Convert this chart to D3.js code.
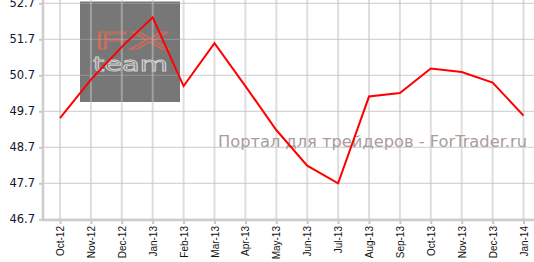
<!DOCTYPE html>
<html>
<head>
<meta charset="utf-8">
<script src="https://cdn.jsdelivr.net/npm/d3@7"></script>
<style>
	body { margin: 0; background: #fff; }
	svg { display: block; }
</style>
</head>
<body>
<div id="chart"></div>
<script>
const months = ['Oct-12', 'Nov-12', 'Dec-12', 'Jan-13', 'Feb-13', 'Mar-13', 'Apr-13', 'May-13', 'Jun-13', 'Jul-13', 'Aug-13', 'Sep-13', 'Oct-13', 'Nov-13', 'Dec-13', 'Jan-14'],
	values = [49.51, 50.58, 51.49, 52.31, 50.40, 51.59, 50.40, 49.18, 48.19, 47.70, 50.11, 50.21, 50.89, 50.79, 50.50, 49.58],
	yTicks = [46.7, 47.7, 48.7, 49.7, 50.7, 51.7, 52.7],
	watermark = 'Портал для трейдеров - ForTrader.ru',
	width = 534,
	height = 262;

const makeChart = () => {

	let svg = d3.select('#chart')
		.append('svg')
		.attr('width', width)
		.attr('height', height);

	// scales
	let x = d3.scalePoint()
		.domain(months)
		.range([60, 523.5]);

	let y = d3.scaleLinear()
		.domain([46.7, 52.7])
		.range([219.3, 3.3]);

	// logo box sits under the grid
	let logo = svg.append('g');
	logo.append('rect')
		.attr('x', 80)
		.attr('y', 1.5)
		.attr('width', 100)
		.attr('height', 100.5)
		.attr('fill', '#777');
	logo.append('text')
		.attr('x', 93)
		.attr('y', 49)
		.attr('textLength', 77)
		.attr('lengthAdjust', 'spacingAndGlyphs')
		.style('font-family', 'DejaVu Sans')
		.style('font-size', '23px')
		.attr('fill', 'none')
		.attr('stroke', '#cf6b58')
		.attr('stroke-width', 1)
		.text('FX');
	logo.append('text')
		.attr('x', 93)
		.attr('y', 70.5)
		.attr('textLength', 75)
		.attr('lengthAdjust', 'spacingAndGlyphs')
		.style('font-family', 'DejaVu Sans')
		.style('font-size', '19px')
		.attr('fill', 'none')
		.attr('stroke', '#d0d0d0')
		.attr('stroke-width', 0.9)
		.text('team');

	// grid
	svg.append('g')
		.selectAll('line')
		.data(yTicks)
		.enter()
		.append('line')
			.attr('x1', 43)
			.attr('x2', width)
			.attr('y1', d => y(d))
			.attr('y2', d => y(d))
			.attr('stroke', 'rgba(170,170,170,0.6)')
			.attr('stroke-width', 1);

	svg.append('g')
		.selectAll('line')
		.data(months)
		.enter()
		.append('line')
			.attr('x1', d => x(d))
			.attr('x2', d => x(d))
			.attr('y1', 0)
			.attr('y2', 219)
			.attr('stroke', 'rgba(195,195,195,0.55)')
			.attr('stroke-width', 2);

	// watermark
	svg.append('text')
		.attr('x', 218)
		.attr('y', 147)
		.attr('textLength', 309)
		.attr('lengthAdjust', 'spacingAndGlyphs')
		.style('font-family', 'DejaVu Sans')
		.style('font-size', '16.5px')
		.attr('fill', '#a99c9c')
		.text(watermark);

	// axes
	let yAxis = d3.axisLeft(y).tickValues(yTicks).tickFormat(d3.format('.1f')).tickSize(4).tickPadding(4);
	let xAxis = d3.axisBottom(x).tickSize(4).tickPadding(3);

	let gy = svg.append('g')
		.attr('transform', 'translate(43,0)')
		.call(yAxis);
	gy.select('.domain').remove();
	gy.selectAll('line').attr('stroke', '#c8c8c8').attr('stroke-width', 2);
	gy.selectAll('text')
		.style('font-family', 'DejaVu Sans')
		.style('font-size', '11.5px')
		.attr('fill', '#0d1633');

	let gx = svg.append('g')
		.attr('transform', 'translate(0,220)')
		.call(xAxis);
	gx.select('.domain').remove();
	gx.selectAll('line').attr('stroke', '#c8c8c8').attr('stroke-width', 2);
	gx.selectAll('text')
		.attr('transform', 'rotate(-90)')
		.attr('text-anchor', 'end')
		.attr('x', -6)
		.attr('y', 0)
		.attr('dy', '0.35em')
		.style('font-family', 'Liberation Sans')
		.style('font-size', '10px')
		.attr('fill', '#111');

	// axis lines
	svg.append('line')
		.attr('x1', 43).attr('x2', 43)
		.attr('y1', 0).attr('y2', 221)
		.attr('stroke', '#ccc')
		.attr('stroke-width', 2.5);
	svg.append('line')
		.attr('x1', 42).attr('x2', width)
		.attr('y1', 220).attr('y2', 220)
		.attr('stroke', '#ccc')
		.attr('stroke-width', 2.5);

	// series
	let line = d3.line()
		.x((d, i) => x(months[i]))
		.y(d => y(d));

	svg.append('path')
		.datum(values)
		.attr('d', line)
		.attr('fill', 'none')
		.attr('stroke', '#ff0000')
		.attr('stroke-width', 2)
		.attr('stroke-linejoin', 'miter');
}

makeChart();
</script>
</body>
</html>
